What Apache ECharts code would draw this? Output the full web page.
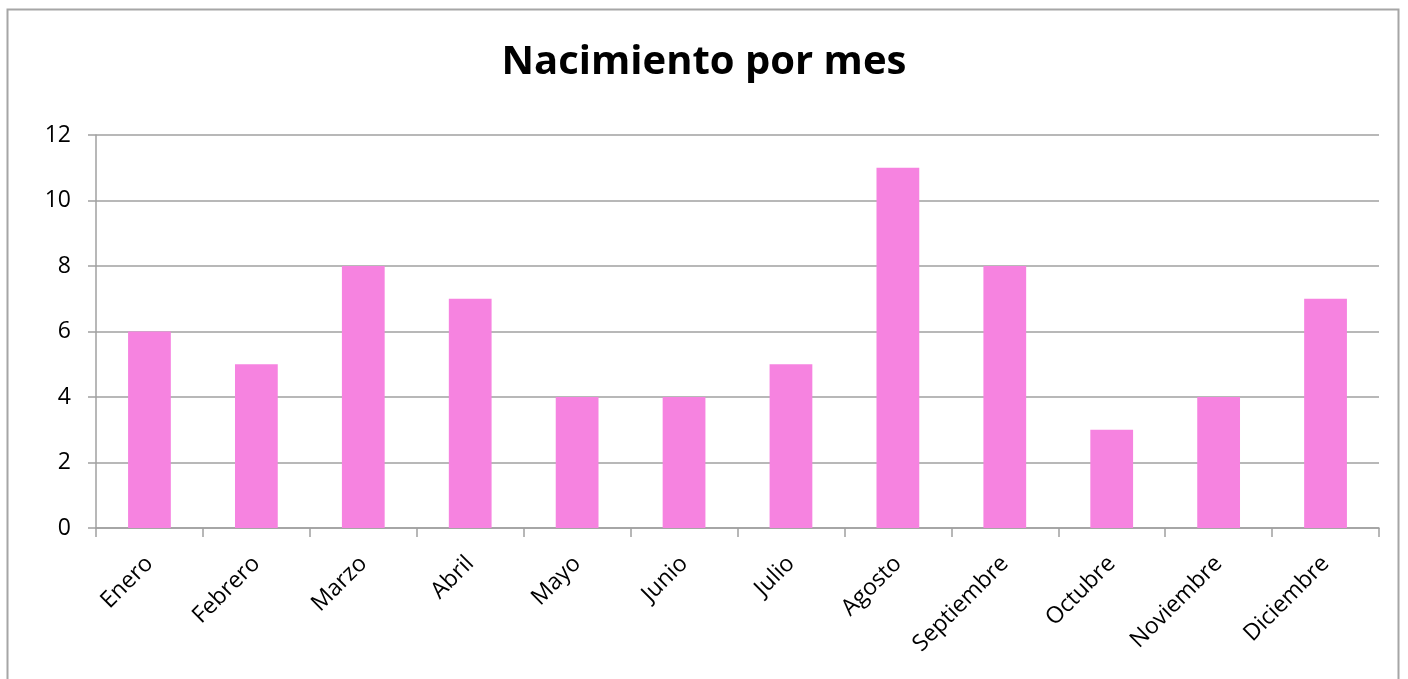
<!DOCTYPE html>
<html><head><meta charset="utf-8">
<script src="https://cdn.jsdelivr.net/npm/echarts@6/dist/echarts.min.js"></script>
<style>html,body{margin:0;padding:0;background:#fff;}#c{width:1408px;height:679px;}</style>
</head><body><div id="c"></div>
<script>
const categories = ['Enero','Febrero','Marzo','Abril','Mayo','Junio','Julio','Agosto','Septiembre','Octubre','Noviembre','Diciembre'];
const births = [6,5,8,7,4,4,5,11,8,3,4,7];
const yTicks = {min:0, max:12, interval:2};
const chart = echarts.init(document.getElementById('c'));
const font = "'Open Sans', 'Noto Sans', sans-serif";
chart.setOption({
  animation:false,
  graphic:[{type:'rect',shape:{x:7.5,y:9.5,width:1391,height:700},style:{fill:'none',stroke:'#a6a6a6',lineWidth:2},silent:true}],
  title:{text:'Nacimiento por mes',left:'center',top:38,textStyle:{fontFamily:font,fontSize:40,fontWeight:'bold',color:'#000'}},
  grid:{left:96,right:29,top:135,bottom:151,containLabel:false},
  xAxis:{type:'category',data:categories,
    axisLine:{lineStyle:{color:'#a0a0a0',width:1.5}},
    axisTick:{show:true,length:9,lineStyle:{color:'#a0a0a0',width:1.5},alignWithLabel:false},
    axisLabel:{rotate:45,margin:32,fontFamily:font,fontSize:23,color:'#000',interval:0}},
  yAxis:{type:'value',min:yTicks.min,max:yTicks.max,interval:yTicks.interval,
    axisLine:{show:true,lineStyle:{color:'#a0a0a0',width:1.5}},
    axisTick:{show:true,length:8,lineStyle:{color:'#a0a0a0',width:1.5}},
    splitLine:{lineStyle:{color:'#a0a0a0',width:1.5}},
    axisLabel:{margin:25,fontFamily:font,fontSize:23,color:'#000'}},
  series:[{type:'bar',data:births,barWidth:'40%',itemStyle:{color:'#f683e0'}}]
});
</script></body></html>
